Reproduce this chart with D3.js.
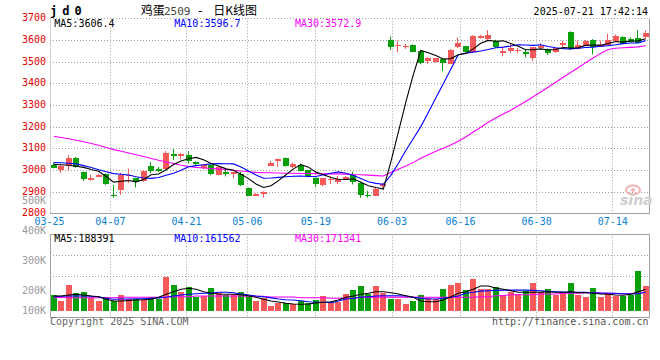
<!DOCTYPE html>
<html><head><meta charset="utf-8">
<script src="https://cdn.jsdelivr.net/npm/d3@7"></script>
<style>
html,body{margin:0;padding:0;background:#fff;}
svg{display:block;font-family:"DejaVu Sans Mono",monospace;}
</style></head><body>
<svg id="c" width="660" height="360"></svg>
<script>
const dates = ["03-25","03-26","03-27","03-28","03-31","04-01","04-02","04-03","04-07","04-08",
"04-09","04-10","04-11","04-14","04-15","04-16","04-17","04-18","04-21","04-22",
"04-23","04-24","04-25","04-28","04-29","04-30","05-06","05-07","05-08","05-09",
"05-12","05-13","05-14","05-15","05-16","05-19","05-20","05-21","05-22","05-23",
"05-26","05-27","05-28","05-29","05-30","06-03","06-04","06-05","06-06","06-09",
"06-10","06-11","06-12","06-13","06-16","06-17","06-18","06-19","06-20","06-23",
"06-24","06-25","06-26","06-27","06-30","07-01","07-02","07-03","07-04","07-07",
"07-08","07-09","07-10","07-11","07-14","07-15","07-16","07-17","07-18","07-21"];
const open = [3022,3000,3018,3056,2990,2955,2969,2981,2886,2912,
2973,2961,2947,3018,3004,3003,3076,3066,3071,3036,
3008,3022,2977,2992,2980,2981,2918,2882,2889,3020,
3042,3056,3015,3022,2999,2964,2927,2954,2946,2958,
2976,2941,2885,2882,2924,3602,3572,3566,3579,3548,
3501,3498,3510,3491,3566,3571,3544,3609,3603,3594,
3540,3548,3549,3546,3516,3566,3559,3543,3574,3635,
3559,3574,3602,3571,3579,3597,3615,3605,3609,3615];
const high = [3035,3024,3068,3060,2992,2979,2982,2983,2930,2986,
3007,2963,2998,3036,3014,3088,3096,3078,3087,3040,
3027,3024,3016,3000,2993,2992,2919,2893,2902,3042,
3052,3057,3034,3030,3001,2966,2962,2972,2972,2972,
2992,2943,2904,2923,2941,3615,3597,3582,3580,3550,
3520,3517,3512,3557,3612,3573,3622,3623,3646,3601,
3569,3582,3563,3554,3568,3585,3561,3564,3597,3640,
3597,3600,3604,3597,3628,3625,3617,3612,3645,3645];
const low = [3008,2987,2996,3010,2950,2950,2966,2931,2872,2886,
2940,2920,2945,2985,2990,3000,3046,3048,3030,3020,
3004,2976,2975,2970,2961,2926,2880,2880,2872,3018,
3015,3016,3008,2993,2966,2923,2925,2935,2935,2955,
2933,2872,2872,2880,2915,3554,3543,3559,3543,3488,
3490,3495,3456,3489,3563,3541,3541,3607,3600,3563,
3525,3540,3539,3520,3502,3559,3531,3540,3566,3553,
3557,3572,3533,3569,3577,3595,3583,3588,3585,3606];
const close = [3010,3020,3056,3015,2958,2963,2978,2937,2883,2979,
2978,2946,2995,2993,2993,3078,3066,3076,3045,3025,
3024,2982,3014,2982,2991,2931,2882,2891,2899,3033,
3050,3018,3027,2995,2973,2935,2961,2960,2958,2968,
2946,2884,2881,2914,2935,3571,3576,3571,3548,3492,
3516,3515,3491,3555,3585,3544,3620,3620,3621,3567,
3551,3563,3554,3539,3566,3574,3539,3562,3585,3556,
3577,3597,3569,3579,3600,3619,3585,3590,3587,3634];
const ma5 = [3025,3024,3022,3017,3012,3002,2994,2970,2944,2948,
2951,2945,2956,2978,2981,3001,3025,3041,3052,3058,
3047,3030,3018,3005,2999,2980,2960,2935,2919,2927,
2951,2978,3005,3025,3013,2990,2978,2965,2957,2956,
2959,2943,2927,2919,2912,3037,3175,3313,3440,3552,
3541,3528,3512,3514,3532,3538,3559,3585,3598,3594,
3596,3584,3571,3555,3555,3559,3554,3556,3565,3563,
3564,3575,3577,3576,3584,3593,3590,3595,3596,3606];
const ma10 = [3034,3033,3031,3028,3020,3011,3001,2992,2983,2980,
2977,2969,2963,2961,2965,2976,2985,2999,3015,3020,
3024,3028,3030,3029,3028,3014,2995,2977,2962,2963,
2966,2969,2971,2972,2970,2970,2978,2985,2991,2985,
2974,2961,2946,2938,2934,2975,3030,3090,3145,3200,
3265,3332,3398,3465,3532,3539,3544,3549,3556,3564,
3567,3572,3578,3577,3575,3578,3570,3564,3560,3559,
3562,3565,3567,3571,3574,3578,3583,3586,3586,3597];
const ma30 = [3156,3150,3144,3137,3130,3122,3114,3104,3094,3086,
3078,3070,3062,3053,3045,3037,3030,3022,3016,3012,
3009,3007,3005,3002,2999,2995,2992,2989,2987,2987,
2986,2985,2985,2984,2984,2983,2982,2982,2982,2981,
2979,2978,2976,2974,2972,2988,3003,3018,3035,3054,
3070,3086,3100,3115,3133,3152,3175,3197,3220,3240,
3258,3276,3296,3316,3338,3360,3382,3405,3428,3450,
3472,3495,3517,3538,3556,3562,3564,3566,3568,3573];
const volume = [178500,148500,219000,190000,193500,162000,150000,167000,150000,178500,
158500,158500,153500,167000,157000,245700,219000,195000,212000,170000,
173500,209000,187000,178500,178500,192000,173500,150000,162000,125000,
140000,137000,132000,148500,137000,153500,175000,145000,145000,183500,
202000,215700,182000,215700,190000,157000,157000,133500,148500,178500,
162000,158500,205700,219000,225700,202000,239000,205700,205700,211000,
178500,195000,183500,200000,225700,195000,205700,178500,187000,225700,
178500,168500,209000,168500,187000,175000,175000,178500,266000,215700];
const volMa5 = [173500,173500,178500,182000,178500,173500,170000,157000,148500,148500,
151000,153500,155000,157000,167000,182000,195000,205000,208000,205000,
195000,187000,183500,182000,182000,180000,175000,167000,157000,148500,
143500,137000,133500,132000,133500,138500,142000,145000,153500,167000,
173500,182000,187000,195000,195000,190000,183500,175000,167000,148500,
145000,145000,153500,170000,187000,195000,205000,215700,215700,209000,
205000,200000,192000,192000,192000,193000,195000,192000,192000,195000,
190000,190000,187000,183500,182000,178500,177000,182000,195000,203700];
const volMa10 = [170000,172000,173500,173500,173500,172000,170000,162000,157000,158500,
158500,160000,160000,162000,164000,167000,173500,178500,182000,185000,
187000,188000,192000,192000,190000,183500,178500,173500,170000,164000,
158500,155000,153500,150000,145000,142000,142000,140000,148500,158500,
162000,167000,170000,173500,175000,175000,175000,173500,167000,162000,
158500,158500,162000,167000,173500,187000,192000,198000,200000,201000,
202000,202000,202000,202000,201000,200000,196500,195000,193000,192000,
192000,192000,190000,188000,187000,187000,185000,183500,185000,192000];
const volMa30 = [165000,167000,165000,165000,165000,165000,165000,165000,165000,167000,
167000,167000,167000,167000,167000,170000,170000,170000,170000,173500,
173500,173500,173500,173500,173500,173500,172000,172000,172000,168500,
168500,168500,168500,165000,165000,165000,165000,162000,162000,162000,
162000,167000,168000,168000,168000,168000,168000,168000,168000,167000,
167000,167000,167000,167000,167000,167000,167000,170000,170000,175000,
175000,180000,180000,180000,180000,183500,183500,183500,187000,187000,
187000,190000,190000,188000,188000,185000,185000,185000,187000,192000];
const priceTicks = [2800,2900,3000,3100,3200,3300,3400,3500,3600,3700];
const volTicks = [100000,200000,300000,400000,500000];
const dateTicks = ["03-25","04-07","04-21","05-06","05-19","06-03","06-16","06-30","07-14"];
const legendPrice = [["MA5:3606.4","#000"],["MA10:3596.7","#0000ff"],["MA30:3572.9","#ff00ff"]];
const legendVol = [["MA5:188391","#000"],["MA10:161562","#0000ff"],["MA30:171341","#ff00ff"]];

const RED = "#f65959", GREEN = "#08a008", GRID = "#a0a0a0", FRAME = "#a0a0a0";
const L = 50, R = 649.3, pTop = 18.3, pBot = 213.3, vTop = 234.3, vBot = 317.3;

const svg = d3.select("#c");
const x = d3.scaleBand().domain(dates).range([L, R]).padding(0);
const xl = d3.scalePoint().domain(dates).range([49, 650.3]);
const yP = d3.scaleLinear().domain([2800, 3700]).range([pBot, pTop]);
const yV = d3.scaleLinear().domain([100000, 200000, 500000]).range([310.7, 290.7, 200.7]);
const cx = i => x(dates[i]) + x.bandwidth() / 2;
const idx = d3.range(dates.length);

// ---- price panel grid
const gP = svg.append("g");
gP.selectAll("line.h").data(priceTicks.slice(1)).join("line")
  .attr("x1", L).attr("x2", R).attr("y1", d => Math.round(yP(d)) + 0.5).attr("y2", d => Math.round(yP(d)) + 0.5)
  .attr("stroke", GRID).attr("stroke-dasharray", "1,2");
gP.selectAll("line.v").data(dateTicks.slice(1)).join("line")
  .attr("x1", d => Math.round(xl(d)) + 0.5).attr("x2", d => Math.round(xl(d)) + 0.5)
  .attr("y1", pTop).attr("y2", pBot).attr("stroke", GRID).attr("stroke-dasharray", "1,2");
gP.append("line").attr("x1", L + 0.5).attr("x2", L + 0.5).attr("y1", pTop).attr("y2", pBot + 0.5).attr("stroke", FRAME).attr("stroke-dasharray", "1,1");
gP.append("line").attr("x1", Math.round(R) + 0.5).attr("x2", Math.round(R) + 0.5).attr("y1", pTop).attr("y2", pBot + 0.5).attr("stroke", FRAME);
gP.append("line").attr("x1", L).attr("x2", Math.round(R) + 1).attr("y1", Math.round(pBot) + 0.5).attr("y2", Math.round(pBot) + 0.5).attr("stroke", FRAME);

// ---- volume panel grid
const gV = svg.append("g");
gV.selectAll("line.h").data([1, 2, 3]).join("line")
  .attr("x1", L).attr("x2", R)
  .attr("y1", k => Math.round(vTop + k * (vBot - vTop) / 4) + 0.5).attr("y2", k => Math.round(vTop + k * (vBot - vTop) / 4) + 0.5)
  .attr("stroke", GRID).attr("stroke-dasharray", "1,2");
gV.selectAll("line.v").data(dateTicks.slice(1)).join("line")
  .attr("x1", d => Math.round(xl(d)) + 0.5).attr("x2", d => Math.round(xl(d)) + 0.5)
  .attr("y1", vTop).attr("y2", vBot).attr("stroke", GRID).attr("stroke-dasharray", "1,2");
gV.append("rect").attr("x", L + 0.5).attr("y", Math.round(vTop) + 0.5)
  .attr("width", Math.round(R) - L).attr("height", Math.round(vBot) - Math.round(vTop))
  .attr("fill", "none").attr("stroke", FRAME);

// ---- axes
const axP = svg.append("g").attr("transform", `translate(${L},0)`)
  .call(d3.axisLeft(yP).tickValues(priceTicks).tickSize(0).tickPadding(4).tickFormat(d3.format("d")));
axP.select(".domain").remove();
axP.selectAll("text").attr("fill", "#e00000").attr("font-size", 10).attr("font-family", "DejaVu Sans Mono").attr("dy", "0.25em");

const axV = svg.append("g").attr("transform", `translate(${L},0)`)
  .call(d3.axisLeft(yV).tickValues(volTicks).tickSize(0).tickPadding(4).tickFormat(d => (d / 1000) + "K"));
axV.select(".domain").remove();
axV.selectAll("text").attr("fill", "#999").attr("font-size", 10).attr("font-family", "DejaVu Sans Mono").attr("dy", "0.3em");

const axX = svg.append("g").attr("transform", `translate(0,${pBot})`)
  .call(d3.axisBottom(xl).tickValues(dateTicks).tickSize(0).tickPadding(5));
axX.select(".domain").remove();
axX.selectAll("text").attr("fill", "#0a80d0").attr("font-size", 10).attr("font-family", "DejaVu Sans Mono");

// ---- watermark
const wm = svg.append("g");
wm.append("ellipse").attr("cx", 633).attr("cy", 190).attr("rx", 7).attr("ry", 4.5)
  .attr("fill", "none").attr("stroke", "#f2b3b3").attr("stroke-width", 2);
wm.append("circle").attr("cx", 633).attr("cy", 190).attr("r", 2).attr("fill", "#f2b3b3");
wm.append("text").attr("x", 620).attr("y", 205).text("sina")
  .attr("font-family", "DejaVu Sans").attr("font-style", "italic").attr("font-weight", "bold")
  .attr("font-size", 14).attr("fill", "#cfcfcf");

// ---- candles
const up = i => close[i] >= open[i];
const gC = svg.append("g");
gC.selectAll("line.w").data(idx).join("line")
  .attr("x1", i => Math.round(cx(i) - 3) + 2.5).attr("x2", i => Math.round(cx(i) - 3) + 2.5)
  .attr("y1", i => yP(high[i])).attr("y2", i => yP(low[i]))
  .attr("stroke", i => up(i) ? RED : GREEN).attr("stroke-width", 1);
gC.selectAll("rect").data(idx).join("rect")
  .attr("x", i => Math.round(cx(i) - 3)).attr("width", 6)
  .attr("y", i => Math.round(yP(Math.max(open[i], close[i]))))
  .attr("height", i => Math.max(1, Math.round(Math.abs(yP(open[i]) - yP(close[i])))))
  .attr("fill", i => up(i) ? RED : GREEN).attr("shape-rendering", "crispEdges");

// ---- volume bars
svg.append("g").selectAll("rect").data(idx).join("rect")
  .attr("x", i => Math.round(cx(i) - 3)).attr("width", 6)
  .attr("y", i => Math.round(yV(volume[i])))
  .attr("height", i => Math.round(yV(100000)) - Math.round(yV(volume[i])))
  .attr("fill", i => up(i) ? RED : GREEN).attr("shape-rendering", "crispEdges");

// ---- MA lines
function maLine(arr, y, color) {
  svg.append("path").datum(idx)
    .attr("d", d3.line().x(i => cx(i)).y(i => y(arr[i])))
    .attr("fill", "none").attr("stroke", color).attr("stroke-width", 1.1);
}
maLine(ma30, yP, "#ff00ff"); maLine(ma10, yP, "#0000ff"); maLine(ma5, yP, "#000");
maLine(volMa30, yV, "#ff00ff"); maLine(volMa10, yV, "#0000ff"); maLine(volMa5, yV, "#000");

// ---- legends
const legX = [54.3, 174.3, 295];
svg.append("g").selectAll("text").data(legendPrice).join("text")
  .attr("x", (d, i) => legX[i]).attr("y", 27.3).attr("fill", d => d[1])
  .attr("font-size", 10).text(d => d[0]);
svg.append("g").selectAll("text").data(legendVol).join("text")
  .attr("x", (d, i) => legX[i]).attr("y", 241.7).attr("fill", d => d[1])
  .attr("font-size", 10).text(d => d[0]);

// ---- header
svg.append("text").attr("x", 50).attr("y", 15.3).attr("font-size", 12).attr("font-weight", "bold")
  .attr("letter-spacing", "5px").attr("fill", "#000").text("jd0");
const title = svg.append("text").attr("y", 15.3).attr("font-size", 12).attr("fill", "#000");
title.append("tspan").attr("x", 140.7).attr("font-family", "Noto Sans CJK SC").text("鸡蛋");
title.append("tspan").attr("x", 164).attr("fill", "#444").attr("font-size", 11).text("2509");
title.append("tspan").attr("x", 196.7).text("-");
title.append("tspan").attr("x", 213.3).attr("font-family", "Noto Sans CJK SC").text("日K线图");
svg.append("text").attr("x", 648).attr("y", 15.3).attr("text-anchor", "end").attr("font-size", 10)
  .attr("fill", "#000").text("2025-07-21 17:42:14");

// ---- footer
svg.append("text").attr("x", 50).attr("y", 325).attr("font-size", 10).attr("fill", "#666").text("Copyright 2025 SINA.COM");
svg.append("text").attr("x", 648.5).attr("y", 325).attr("text-anchor", "end").attr("font-size", 10).attr("fill", "#555").text("http://finance.sina.com.cn");
</script>
</body></html>
